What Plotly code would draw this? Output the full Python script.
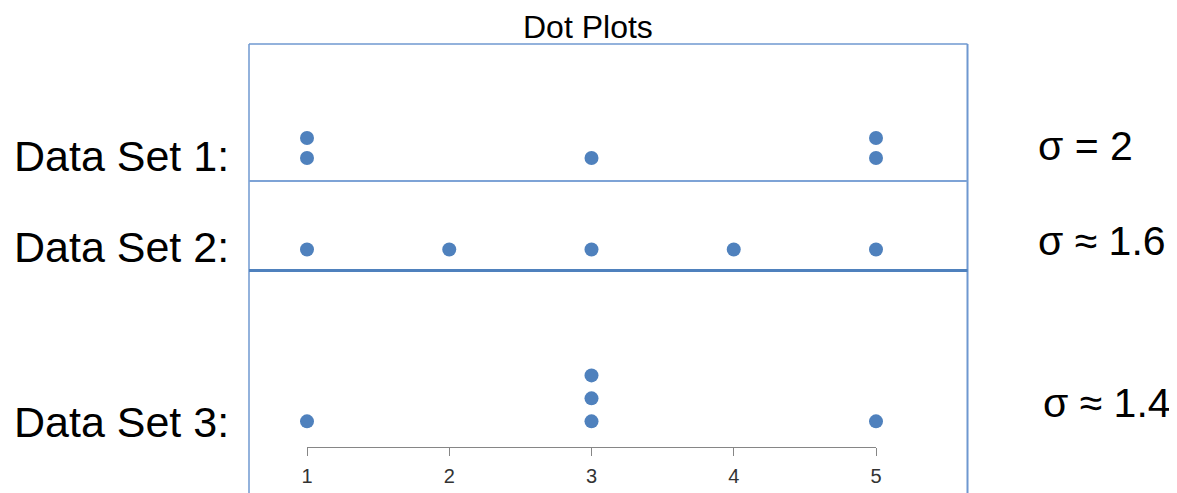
import plotly.graph_objects as go

# ---- data ----
set1_values = [1, 1, 3, 5, 5]
set2_values = [1, 2, 3, 4, 5]
set3_values = [1, 3, 3, 3, 5]
set_labels = ["Data Set 1:", "Data Set 2:", "Data Set 3:"]
sigma_labels = ["σ = 2", "σ ≈ 1.6", "σ ≈ 1.4"]
tick_values = [1, 2, 3, 4, 5]
tick_labels = ["1", "2", "3", "4", "5"]
title_text = "Dot Plots"

OFF = 8  # page body margin
W, H = 1177 - OFF, 493 - OFF
ML = 307 - OFF
MR = W - (876 - OFF)
MT = 44 - OFF
MB = 0
PW = W - ML - MR
PH = H - MT - MB


def px_x(p):
    return (p - OFF - ML) / PW


def px_y(p):
    return (H - MB - (p - OFF)) / PH


def stack_levels(vals):
    seen = {}
    lv = []
    for v in vals:
        seen[v] = seen.get(v, 0) + 1
        lv.append(seen[v])
    return lv


DOT = "#4f81bd"
fig = go.Figure()

for vals, yax in [(set1_values, "y3"), (set2_values, "y2"), (set3_values, "y")]:
    fig.add_trace(go.Scatter(
        x=vals, y=stack_levels(vals), mode="markers", xaxis="x", yaxis=yax,
        marker=dict(color=DOT, size=14, line=dict(width=0)),
        cliponaxis=False, showlegend=False, hoverinfo="skip"))

axis_y = 447.3
fig.update_layout(
    width=W, height=H,
    margin=dict(l=ML, r=MR, t=MT, b=MB, pad=0, autoexpand=False),
    paper_bgcolor="white", plot_bgcolor="white",
    showlegend=False,
    xaxis=dict(range=[1, 5], domain=[0, 1], anchor="y",
               tickmode="array", tickvals=tick_values, ticktext=tick_labels,
               showline=True, linecolor="#868686", linewidth=1,
               ticks="outside", ticklen=8, tickcolor="#868686", tickwidth=1,
               showgrid=False, zeroline=False, automargin=False,
               tickfont=dict(family="Liberation Sans, Arial", size=20, color="#333333"),
               ticklabelstandoff=3, fixedrange=True),
    yaxis=dict(domain=[px_y(axis_y), px_y(270.5)], range=[-0.13, 7.565],
               visible=False, fixedrange=True),
    yaxis2=dict(domain=[px_y(270.5), px_y(181)], range=[-0.05, 4.42],
                visible=False, fixedrange=True),
    yaxis3=dict(domain=[px_y(181), 1], range=[-0.15, 6.7],
                visible=False, fixedrange=True),
)

BOX = "#6f98d0"
left_b, right_b = 249, 967.5
shapes = [
    dict(type="line", xref="paper", yref="paper", x0=px_x(left_b), x1=px_x(left_b),
         y0=1.0, y1=-0.02, line=dict(color=BOX, width=1.5)),
    dict(type="line", xref="paper", yref="paper", x0=px_x(right_b), x1=px_x(right_b),
         y0=1.0, y1=-0.02, line=dict(color=BOX, width=2)),
    dict(type="line", xref="paper", yref="paper", x0=px_x(left_b), x1=px_x(right_b),
         y0=1.0, y1=1.0, line=dict(color=BOX, width=1.5)),
    dict(type="line", xref="paper", yref="paper", x0=px_x(left_b), x1=px_x(right_b),
         y0=px_y(181), y1=px_y(181), line=dict(color="#7ea3d6", width=2)),
    dict(type="line", xref="paper", yref="paper", x0=px_x(left_b), x1=px_x(right_b),
         y0=px_y(270.5), y1=px_y(270.5), line=dict(color=DOT, width=3)),
]
fig.update_layout(shapes=shapes)

FONT = "Liberation Sans, Arial, sans-serif"
annotations = [
    dict(text=title_text, xref="paper", yref="paper", x=px_x(588), y=px_y(27),
         xanchor="center", yanchor="middle", showarrow=False,
         font=dict(family=FONT, size=32, color="black")),
]
label_y = [156, 247, 422]
for txt, yy in zip(set_labels, label_y):
    annotations.append(dict(text=txt, xref="paper", yref="paper", x=px_x(12), y=px_y(yy),
                            xanchor="left", yanchor="middle", showarrow=False,
                            font=dict(family=FONT, size=43, color="black")))
sigma_pos = [(1036, 146), (1036, 241), (1041, 403)]
for txt, (xx, yy) in zip(sigma_labels, sigma_pos):
    annotations.append(dict(text=txt, xref="paper", yref="paper", x=px_x(xx), y=px_y(yy),
                            xanchor="left", yanchor="middle", showarrow=False,
                            font=dict(family=FONT, size=41, color="black")))
fig.update_layout(annotations=annotations)

fig.write_html("out.html")
